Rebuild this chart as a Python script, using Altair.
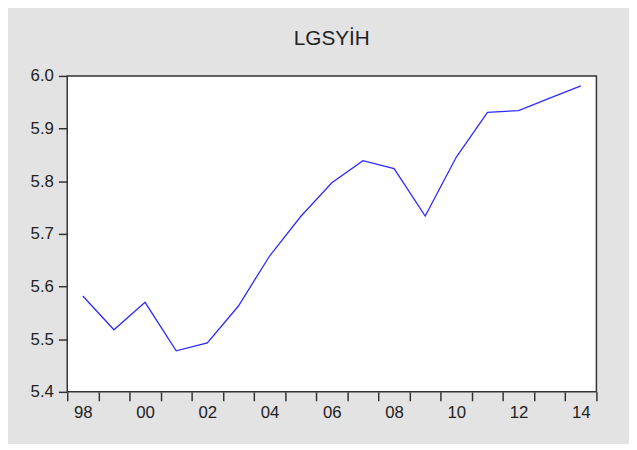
import altair as alt
import pandas as pd

# Data
years = [1998, 1999, 2000, 2001, 2002, 2003, 2004, 2005, 2006,
         2007, 2008, 2009, 2010, 2011, 2012, 2013, 2014]
values = [5.582, 5.518, 5.570, 5.478, 5.493, 5.563, 5.658, 5.733, 5.797,
          5.839, 5.824, 5.734, 5.846, 5.931, 5.934, 5.958, 5.981]

label_years = [1998, 2000, 2002, 2004, 2006, 2008, 2010, 2012, 2014]
x_labels = ["98", "00", "02", "04", "06", "08", "10", "12", "14"]
y_ticks = [5.4, 5.5, 5.6, 5.7, 5.8, 5.9, 6.0]

df = pd.DataFrame({"year": years, "value": values})

# ticks at year boundaries, labels at year centres
boundaries = [years[0] - 0.5 + i for i in range(len(years) + 1)]
x_axis_values = boundaries + label_years
label_expr = ""
for yv, lab in zip(label_years, x_labels):
    label_expr += f"datum.value == {yv} ? '{lab}' : "
label_expr += "''"

FONT = "Liberation Sans"
INK = "#222222"

chart = alt.Chart(df).mark_line(color="#2b2bff", strokeWidth=1.3).encode(
    x=alt.X(
        "year:Q",
        scale=alt.Scale(domain=[boundaries[0], boundaries[-1]], nice=False, zero=False),
        axis=alt.Axis(
            values=x_axis_values,
            labelExpr=label_expr,
            tickOpacity={"condition": {"test": "datum.value % 1 == 0", "value": 0}, "value": 1},
            title=None, grid=False, domain=False,
            tickSize=9, tickColor="#333333", tickWidth=1.5,
            labelFont=FONT, labelFontSize=17, labelColor=INK, labelPadding=4,
            labelOverlap=False, labelFlush=False, labelBound=False,
        ),
    ),
    y=alt.Y(
        "value:Q",
        scale=alt.Scale(domain=[5.4, 6.0], nice=False, zero=False),
        axis=alt.Axis(
            values=y_ticks, format=".1f",
            title=None, grid=False, domain=False,
            tickSize=9, tickColor="#333333", tickWidth=1.5,
            labelFont=FONT, labelFontSize=17, labelColor=INK, labelPadding=5,
            labelOverlap=False, labelFlush=False, labelBound=False,
        ),
    ),
).properties(
    width=536,
    height=320,
    title=alt.TitleParams(
        "LGSYİH", font=FONT, fontSize=21, fontWeight="normal", color=INK,
        anchor="middle", offset=18,
    ),
    autosize=alt.AutoSizeParams(type="none"),
    padding={"left": 60, "top": 66, "right": 33, "bottom": 50},
    background="#e3e3e3",
).configure_view(
    fill="white", stroke="#333333", strokeWidth=1.5
)

chart.save("out.html", embed_options={"renderer": "svg", "actions": False})
